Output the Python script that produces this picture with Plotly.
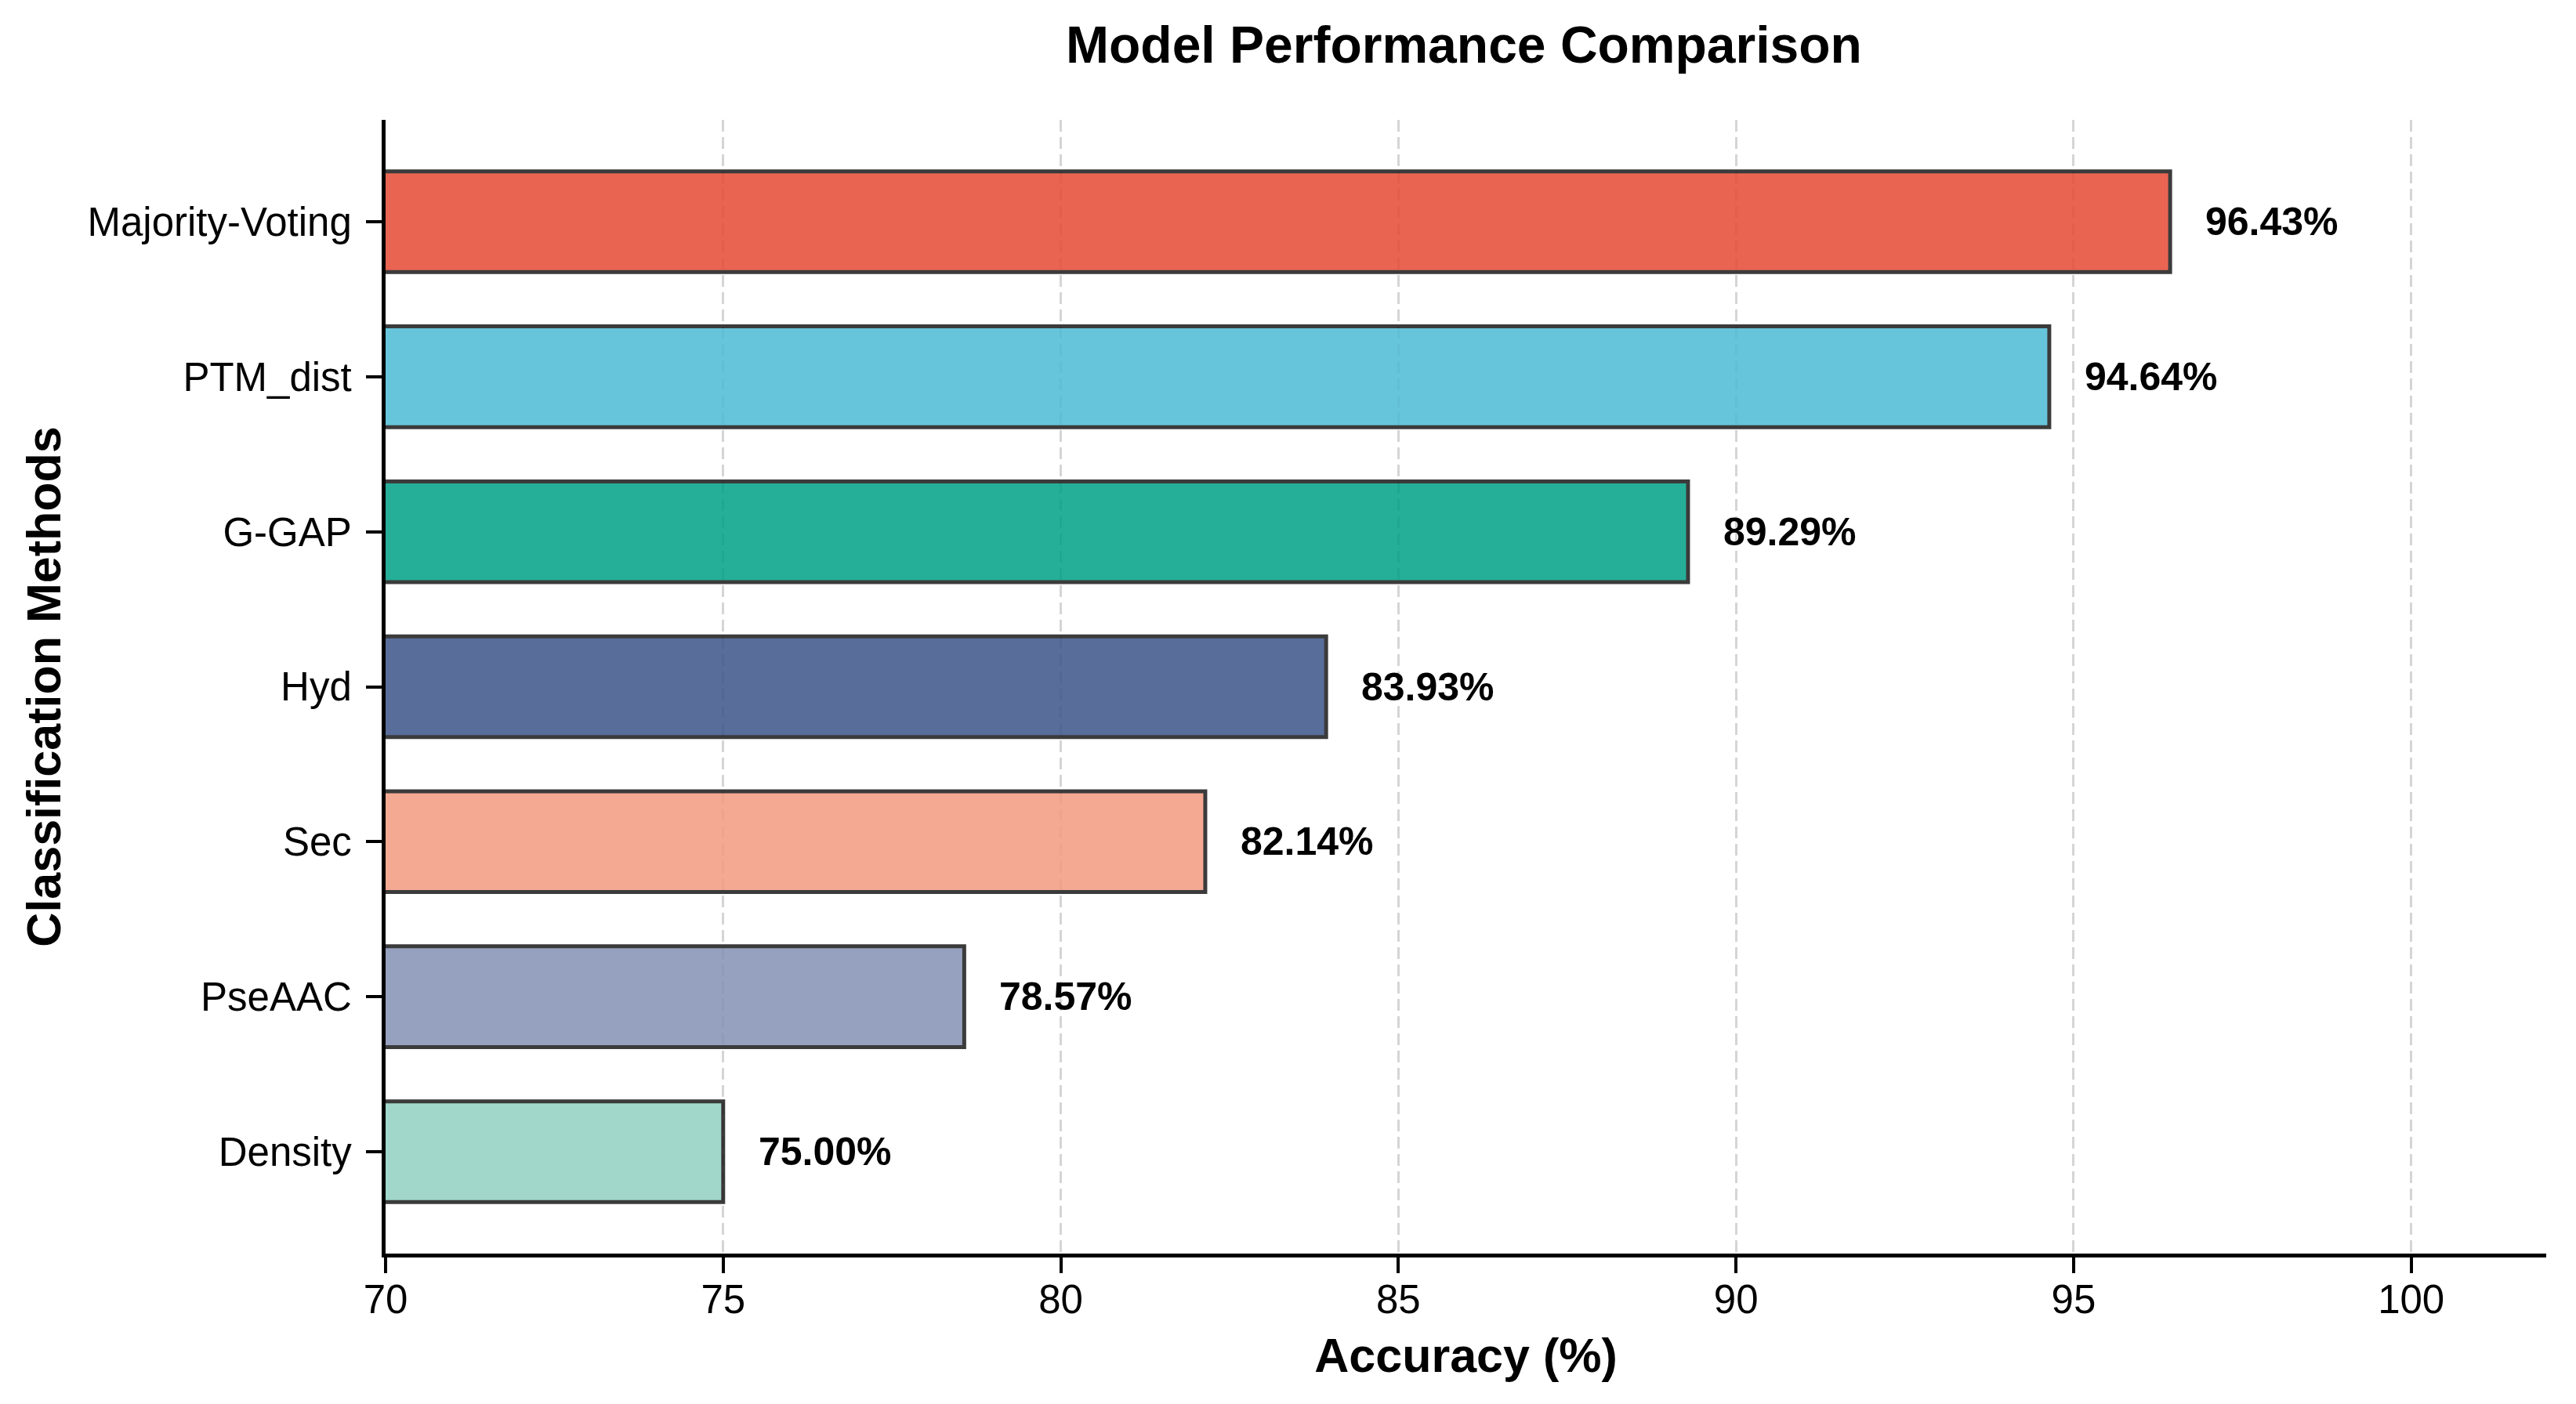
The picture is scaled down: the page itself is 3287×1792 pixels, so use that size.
import plotly.graph_objects as go

methods = ["Density", "PseAAC", "Sec", "Hyd", "G-GAP", "PTM_dist", "Majority-Voting"]
accuracy = [75.00, 78.57, 82.14, 83.93, 89.29, 94.64, 96.43]
colors = ["#91D1C2", "#8491B4", "#F39B7F", "#3C5488", "#00A087", "#4DBBD5", "#E64B35"]
x_ticks = [70, 75, 80, 85, 90, 95, 100]

FONT = "Liberation Sans, Arial, Helvetica, sans-serif"

fig = go.Figure()
fig.add_trace(go.Bar(
    x=accuracy,
    y=methods,
    orientation="h",
    width=0.65,
    marker=dict(color=colors, opacity=0.85,
                line=dict(color="#1a1a1a", width=5)),
    showlegend=False,
    hoverinfo="skip",
))

for m, v in zip(methods, accuracy):
    fig.add_annotation(
        x=v + 0.5, y=m, xref="x", yref="y",
        text=f"{v:.2f}%", showarrow=False,
        xanchor="left", yanchor="middle",
        font=dict(family=FONT, size=50, color="black", weight="bold"),
    )

W, H = 3271, 1776
fig.update_layout(
    width=W, height=H,
    margin=dict(l=484, r=30, t=145, b=184, pad=0),
    paper_bgcolor="white", plot_bgcolor="white",
    font=dict(family=FONT, color="black"),
    title=dict(
        text="Model Performance Comparison",
        x=(1868 - 8) / W, xref="container", xanchor="center",
        y=1 - (57 - 8) / H, yref="container", yanchor="middle",
        font=dict(family=FONT, size=66, color="black", weight="bold"),
    ),
)

fig.update_xaxes(
    range=[70, 102],
    tickmode="array", tickvals=x_ticks, ticktext=[str(t) for t in x_ticks],
    showgrid=True, gridcolor="rgba(150,150,150,0.40)", gridwidth=3, griddash="15px,7px",
    zeroline=False,
    showline=True, linecolor="black", linewidth=5,
    ticks="outside", ticklen=20, tickwidth=4, tickcolor="black",
    tickfont=dict(family=FONT, size=51, color="black"),
    ticklabelstandoff=-10,
    title=dict(text="Accuracy (%)", standoff=24,
               font=dict(family=FONT, size=61, color="black", weight="bold")),
)

fig.update_yaxes(
    type="category",
    categoryorder="array", categoryarray=methods,
    range=[-0.6575, 6.6575],
    showgrid=False, zeroline=False,
    showline=True, linecolor="black", linewidth=5,
    ticks="outside", ticklen=20, tickwidth=4, tickcolor="black",
    tickfont=dict(family=FONT, size=51, color="black"),
    ticklabelstandoff=8,
    title=dict(text="Classification Methods", standoff=16,
               font=dict(family=FONT, size=61, color="black", weight="bold")),
)

fig.write_html("out.html")
